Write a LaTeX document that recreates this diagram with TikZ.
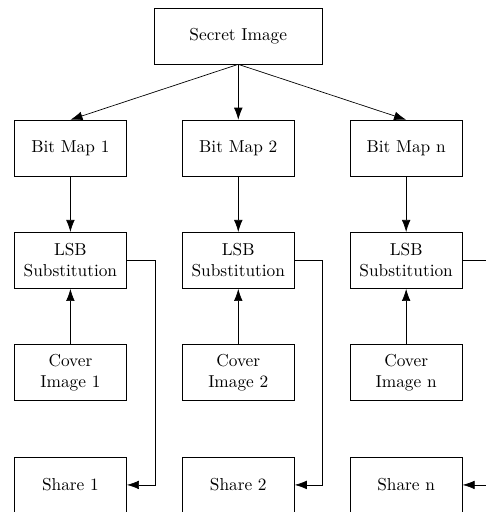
\documentclass[tikz,border=0pt]{standalone}
\usepackage{amsmath}
\usepackage{tikz}
\usetikzlibrary{arrows.meta}

\tikzset{box/.style={draw,minimum width=2.28cm,minimum height=1.14cm,align=center}}

\begin{document}
\begin{tikzpicture}[>={Latex[length=7pt,width=5pt]},level distance=2.28cm,level 1/.style={sibling distance=3.41cm},every node/.style={box},parent anchor=south,child anchor=north,edge from parent/.style={draw,->}]
	\useasboundingbox (-4.84,0.73) rectangle (5.02,-9.67);
	\node[minimum width=3.41cm] (secret) {Secret Image}
		child { node (bm1) {Bit Map 1}
			child { node (lsb1) {LSB\\Substitution}
				child { node (cov1) {Cover\\Image 1}
					child { node (sh1) {Share 1} edge from parent[draw=none] }
				edge from parent[<-] } } }
		child { node (bm2) {Bit Map 2}
			child { node (lsb2) {LSB\\Substitution}
				child { node (cov2) {Cover\\Image 2}
					child { node (sh2) {Share 2} edge from parent[draw=none] }
				edge from parent[<-] } } }
		child { node (bmn) {Bit Map n}
			child { node (lsbn) {LSB\\Substitution}
				child { node (covn) {Cover\\Image n}
					child { node (shn) {Share n} edge from parent[draw=none] }
				edge from parent[<-] } } }
	;
	\foreach \i in {1,2,n}
		\draw[->] (lsb\i.east) -- ++(0.57,0) |- (sh\i.east);
\end{tikzpicture}
\end{document}
